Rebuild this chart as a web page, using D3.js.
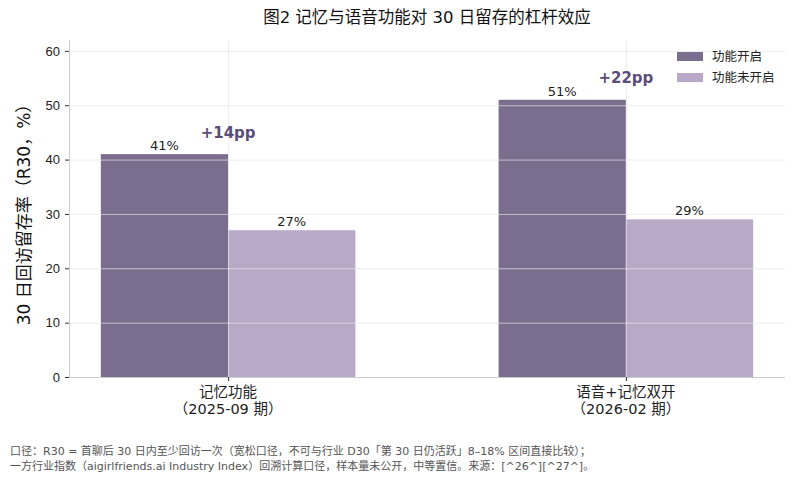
<!DOCTYPE html>
<html>
<head>
<meta charset="utf-8">
<script src="https://cdn.jsdelivr.net/npm/d3@7"></script>
<style>
  body { margin: 0; background: #fff; }
  svg { font-family: "DejaVu Sans", "Noto Sans CJK SC", sans-serif; }
</style>
</head>
<body>
<script>
// chart data
var categories = ["记忆功能\n（2025-09 期）", "语音+记忆双开\n（2026-02 期）"];
var seriesNames = ["功能开启", "功能未开启"];
var onValues = [41, 51];
var offValues = [27, 29];
var liftLabels = ["+14pp", "+22pp"];
var yTicks = [0, 10, 20, 30, 40, 50, 60];
var noteLines = [
    "口径：R30 = 首聊后 30 日内至少回访一次（宽松口径，不可与行业 D30「第 30 日仍活跃」8–18% 区间直接比较）；",
    "一方行业指数（aigirlfriends.ai Industry Index）回溯计算口径，样本量未公开，中等置信。来源：[^26^][^27^]。"
];

var width = 795, height = 480;
var margin = { top: 40, right: 10, bottom: 103, left: 69 };
var colors = ["#7b6d8d", "#b8a9c9"];

var svg = d3.select("body").append("svg").attr("width", width).attr("height", height);

var x = d3.scaleLinear().domain([-0.4, 1.4]).range([margin.left, width - margin.right]);
var y = d3.scaleLinear().domain([0, 62]).range([height - margin.bottom, margin.top]);
var barW = 0.32;

var plot = svg.append("g");

// bars
var series = [onValues, offValues];
series.forEach(function (vals, s) {
    plot.selectAll(".bar" + s).data(vals).enter().append("rect")
        .attr("x", function (d, i) { return x(i + (s === 0 ? -barW : 0)); })
        .attr("width", x(barW) - x(0))
        .attr("y", function (d) { return y(d); })
        .attr("height", function (d) { return y(0) - y(d); })
        .attr("fill", colors[s]);
});

// grid drawn over bars
var grid = svg.append("g").attr("stroke", "#e6e6e6").attr("stroke-opacity", 0.7).attr("stroke-width", 1);
grid.selectAll(".hg").data(yTicks).enter().append("line")
    .attr("x1", margin.left).attr("x2", width - margin.right)
    .attr("y1", function (d) { return y(d) + 0.5; }).attr("y2", function (d) { return y(d) + 0.5; });
grid.selectAll(".vg").data(categories).enter().append("line")
    .attr("x1", function (d, i) { return x(i) + 0.5; }).attr("x2", function (d, i) { return x(i) + 0.5; })
    .attr("y1", margin.top).attr("y2", y(0));

// value labels
series.forEach(function (vals, s) {
    svg.selectAll(".vl" + s).data(vals).enter().append("text")
        .attr("x", function (d, i) { return x(i + (s === 0 ? -barW / 2 : barW / 2)); })
        .attr("y", function (d) { return y(d) - 4; })
        .attr("text-anchor", "middle")
        .attr("font-size", 13)
        .attr("fill", "#222")
        .text(function (d) { return d + "%"; });
});

// lift annotations
svg.selectAll(".lift").data(liftLabels).enter().append("text")
    .attr("x", function (d, i) { return x(i); })
    .attr("y", function (d, i) { return y(onValues[i] + 4); })
    .attr("dy", "0.35em")
    .attr("text-anchor", "middle")
    .attr("font-size", 15)
    .attr("font-weight", "bold")
    .attr("fill", "#5b4d78")
    .text(function (d) { return d; });

// axes
var yAxis = svg.append("g").attr("transform", "translate(" + margin.left + ",0)")
    .call(d3.axisLeft(y).tickValues(yTicks).tickSize(4).tickPadding(5));
var xAxis = svg.append("g").attr("transform", "translate(0," + y(0) + ")")
    .call(d3.axisBottom(x).tickValues([0, 1]).tickSize(4).tickFormat(""));
[yAxis, xAxis].forEach(function (a) {
    a.select(".domain").attr("stroke", "#cccccc");
    a.selectAll(".tick line").attr("stroke", "#333");
    a.selectAll(".tick text").attr("font-size", 13).attr("fill", "#222").attr("font-family", null);
});
// left spine full height
yAxis.select(".domain").attr("d", "M0.5," + margin.top + "V" + (y(0) + 0.5));
xAxis.select(".domain").attr("d", "M" + margin.left + ",0.5H" + (width - margin.right));

// x category labels (two lines)
categories.forEach(function (c, i) {
    var t = svg.append("text").attr("text-anchor", "middle").attr("font-size", 14.5).attr("fill", "#222");
    c.split("\n").forEach(function (line, k) {
        t.append("tspan").attr("x", x(i)).attr("y", y(0) + 20 + k * 17).text(line);
    });
});

// y label
svg.append("text")
    .attr("transform", "translate(30," + ((margin.top + y(0)) / 2 + 2) + ") rotate(-90)")
    .attr("text-anchor", "middle")
    .attr("font-size", 17)
    .attr("fill", "#111")
    .text("30 日回访留存率（R30，%）");

// title
svg.append("text")
    .attr("x", (margin.left + width - margin.right) / 2)
    .attr("y", 23)
    .attr("text-anchor", "middle")
    .attr("font-size", 16.5)
    .attr("fill", "#111")
    .text("图2 记忆与语音功能对 30 日留存的杠杆效应");

// legend
var legend = svg.append("g").attr("transform", "translate(677,52)");
seriesNames.forEach(function (n, i) {
    legend.append("rect").attr("x", 0).attr("y", i * 21).attr("width", 26).attr("height", 9).attr("fill", colors[i]);
    legend.append("text").attr("x", 35).attr("y", i * 21 + 9).attr("font-size", 12.5).attr("fill", "#222").text(n);
});

// footnote
svg.selectAll(".note").data(noteLines).enter().append("text")
    .attr("x", 10)
    .attr("y", function (d, i) { return 455 + i * 15; })
    .attr("font-size", 11)
    .attr("fill", "#555")
    .text(function (d) { return d; });
</script>
</body>
</html>
